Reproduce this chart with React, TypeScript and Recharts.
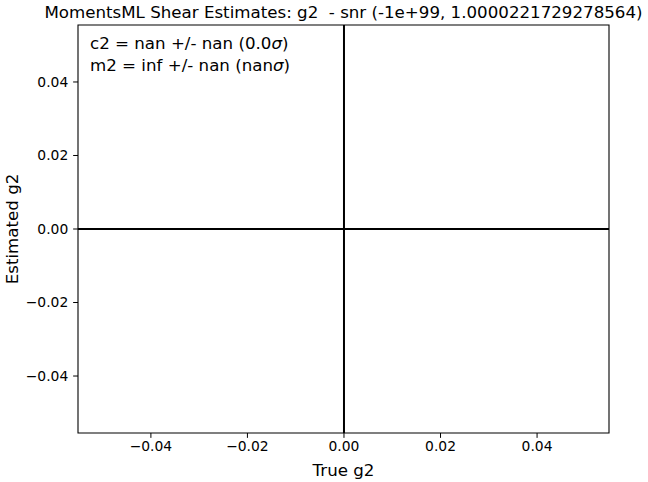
import { ComposedChart, XAxis, YAxis, ReferenceLine, ReferenceArea, Label, Customized } from "recharts"

const xDomain = [-0.0551, 0.0549]
const yDomain = [-0.0555, 0.0555]
const xTicks = [-0.04, -0.02, 0, 0.02, 0.04]
const yTicks = [-0.04, -0.02, 0, 0.02, 0.04]
const zeroLines = [0]
const titleText = "MomentsML Shear Estimates: g2  - snr (-1e+99, 1.0000221729278564)"
const xLabel = "True g2"
const yLabel = "Estimated g2"
const statLines = [
  { head: "c2 = nan +/- nan (0.0", tail: ")" },
  { head: "m2 = inf +/- nan (nan", tail: ")" },
]

const FONT = "DejaVu Sans, sans-serif"
const fmt = (v: number) => v.toFixed(2).replace("-", "\u2212")

function Overlay() {
  return (
    <g fontFamily={FONT} fill="#000">
      <text x={343.5} y={17.5} fontSize={16.67} textAnchor="middle" style={{ whiteSpace: "pre" }}>
        {titleText}
      </text>
      <text x={18} y={229} fontSize={16.67} textAnchor="middle" transform="rotate(-90 18 229)">
        {yLabel}
      </text>
      {statLines.map((s, i) => (
        <text key={i} x={90} y={49 + i * 22.3} fontSize={16.67}>
          {s.head}
          <tspan fontStyle="italic">σ</tspan>
          {s.tail}
        </text>
      ))}
    </g>
  )
}

export default function App() {
  return (
    <div style={{ position: "absolute", left: 0, top: 0, width: 648, height: 482, background: "#fff" }}>
      <ComposedChart width={648} height={482} data={[]} margin={{ top: 25, right: 39, left: 0, bottom: 0 }}>
        <XAxis
          type="number"
          dataKey="x"
          domain={xDomain}
          ticks={xTicks}
          allowDataOverflow
          tickFormatter={fmt}
          height={49}
          tickSize={4.86}
          tickMargin={3}
          stroke="#000"
          tick={{ fill: "#000", fontSize: 13.89, fontFamily: FONT }}
          axisLine={false}
        >
          <Label value={xLabel} position="insideBottom" offset={6} fill="#000" fontSize={16.67} fontFamily={FONT} />
        </XAxis>
        <YAxis
          type="number"
          dataKey="y"
          domain={yDomain}
          ticks={yTicks}
          allowDataOverflow
          tickFormatter={fmt}
          width={78}
          tickSize={4.86}
          tickMargin={4.86}
          stroke="#000"
          tick={{ fill: "#000", fontSize: 13.89, fontFamily: FONT }}
          axisLine={false}
        />
        <ReferenceArea
          x1={xDomain[0]}
          x2={xDomain[1]}
          y1={yDomain[0]}
          y2={yDomain[1]}
          fill="none"
          fillOpacity={0}
          stroke="#000"
          strokeWidth={1.1}
          strokeOpacity={1}
          ifOverflow="extendDomain"
        />
        {zeroLines.map((v) => (
          <ReferenceLine key={"x" + v} x={v} stroke="#000" strokeWidth={2} />
        ))}
        {zeroLines.map((v) => (
          <ReferenceLine key={"y" + v} y={v} stroke="#000" strokeWidth={2} />
        ))}
        <Customized component={Overlay} />
      </ComposedChart>
    </div>
  )
}
